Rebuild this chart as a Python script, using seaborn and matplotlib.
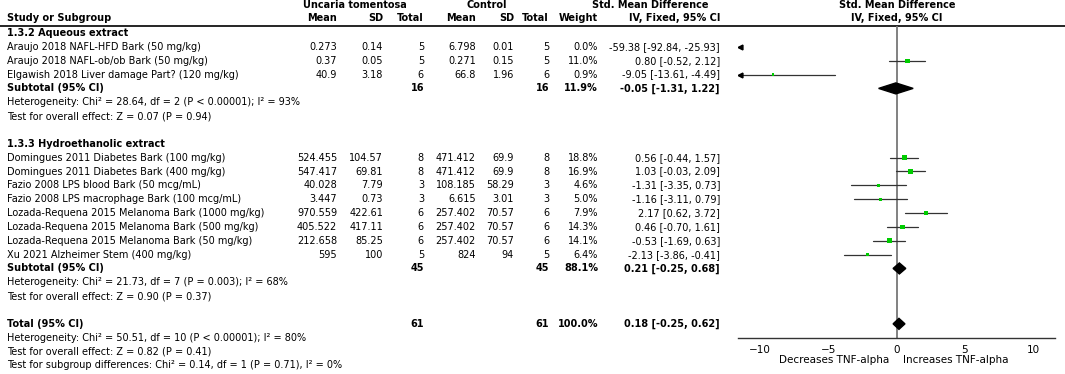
import numpy as np
import pandas as pd
import matplotlib
matplotlib.use("Agg")
import matplotlib.pyplot as plt
import seaborn as sns

# ---------------- data ----------------
studies = ["Araujo 2018 NAFL-HFD Bark (50 mg/kg)",
           "Araujo 2018 NAFL-ob/ob Bark (50 mg/kg)",
           "Elgawish 2018 Liver damage Part? (120 mg/kg)",
           "Domingues 2011 Diabetes Bark (100 mg/kg)",
           "Domingues 2011 Diabetes Bark (400 mg/kg)",
           "Fazio 2008 LPS blood Bark (50 mcg/mL)",
           "Fazio 2008 LPS macrophage Bark (100 mcg/mL)",
           "Lozada-Requena 2015 Melanoma Bark (1000 mg/kg)",
           "Lozada-Requena 2015 Melanoma Bark (500 mg/kg)",
           "Lozada-Requena 2015 Melanoma Bark (50 mg/kg)",
           "Xu 2021 Alzheimer Stem (400 mg/kg)"]
group = ["aq"] * 3 + ["hy"] * 8
ut_mean = [0.273, 0.37, 40.9, 524.455, 547.417, 40.028, 3.447, 970.559, 405.522, 212.658, 595]
ut_sd = [0.14, 0.05, 3.18, 104.57, 69.81, 7.79, 0.73, 422.61, 417.11, 85.25, 100]
ut_n = [5, 5, 6, 8, 8, 3, 3, 6, 6, 6, 5]
ct_mean = [6.798, 0.271, 66.8, 471.412, 471.412, 108.185, 6.615, 257.402, 257.402, 257.402, 824]
ct_sd = [0.01, 0.15, 1.96, 69.9, 69.9, 58.29, 3.01, 70.57, 70.57, 70.57, 94]
ct_n = [5, 5, 6, 8, 8, 3, 3, 6, 6, 6, 5]
weight = [0.0, 11.0, 0.9, 18.8, 16.9, 4.6, 5.0, 7.9, 14.3, 14.1, 6.4]
smd = [-59.38, 0.80, -9.05, 0.56, 1.03, -1.31, -1.16, 2.17, 0.46, -0.53, -2.13]
smd_lo = [-92.84, -0.52, -13.61, -0.44, -0.03, -3.35, -3.11, 0.62, -0.70, -1.69, -3.86]
smd_hi = [-25.93, 2.12, -4.49, 1.57, 2.09, 0.73, 0.79, 3.72, 1.61, 0.63, -0.41]

# subtotals / total
sub_names = ["Subtotal (95% CI)", "Subtotal (95% CI)", "Total (95% CI)"]
sub_n1 = [16, 45, 61]
sub_n2 = [16, 45, 61]
sub_w = [11.9, 88.1, 100.0]
sub_est = [-0.05, 0.21, 0.18]
sub_lo = [-1.31, -0.25, -0.25]
sub_hi = [1.22, 0.68, 0.62]

sub_het = ["Heterogeneity: Chi\u00b2 = 28.64, df = 2 (P < 0.00001); I\u00b2 = 93%",
           "Heterogeneity: Chi\u00b2 = 21.73, df = 7 (P = 0.003); I\u00b2 = 68%",
           "Heterogeneity: Chi\u00b2 = 50.51, df = 10 (P < 0.00001); I\u00b2 = 80%"]
sub_z = ["Test for overall effect: Z = 0.07 (P = 0.94)",
         "Test for overall effect: Z = 0.90 (P = 0.37)",
         "Test for overall effect: Z = 0.82 (P = 0.41)"]
subgroup_test = "Test for subgroup differences: Chi\u00b2 = 0.14, df = 1 (P = 0.71), I\u00b2 = 0%"
group_titles = ["1.3.2 Aqueous extract", "1.3.3 Hydroethanolic extract"]

xticks = [-10, -5, 0, 5, 10]
xlim = (-11.6, 11.6)

# ---------------- layout ----------------
sns.set_style("white")
plt.rcParams["font.family"] = ["DejaVu Sans"]
plt.rcParams["text.color"] = "black"
plt.rcParams["xtick.color"] = "black"
FS = 7

W, H = 1065, 374
row0, dy = 33, 13.85
def ry(i):
    return row0 + dy * i

study_rows = [1, 2, 3] + list(range(9, 17))
sub_rows = [4, 17, 21]
het_rows = [5, 18, 22]
z_rows = [6, 19, 23]
title_rows = [0, 8]

# column right edges (pixels)
c_mean1, c_sd1, c_n1 = 337, 383, 424
c_mean2, c_sd2, c_n2 = 476, 514, 549
c_w, c_ci = 598, 720
x_name = 7

fig = plt.figure(figsize=(W / 100, H / 100), dpi=100)
ax = fig.add_axes([0, 0, 1, 1])
ax.set_xlim(0, W)
ax.set_ylim(H, 0)
ax.axis("off")

def t(x, y, s, ha="right", bold=False, **kw):
    ax.text(x, y, s, ha=ha, va="center", fontsize=FS, color="black",
            fontweight="bold" if bold else "normal", **kw)

# header
t(355, 5, "Uncaria tomentosa", ha="center", bold=True)
t(487, 5, "Control", ha="center", bold=True)
t(708, 5, "Std. Mean Difference", bold=True)
t(897, 5, "Std. Mean Difference", ha="center", bold=True)
t(x_name, 18, "Study or Subgroup", ha="left", bold=True)
for xx, s in [(c_mean1, "Mean"), (c_sd1, "SD"), (c_n1, "Total"), (c_mean2, "Mean"),
              (c_sd2, "SD"), (c_n2, "Total"), (c_w, "Weight"), (c_ci, "IV, Fixed, 95% CI")]:
    t(xx, 18, s, bold=True)
t(897, 18, "IV, Fixed, 95% CI", ha="center", bold=True)
ax.plot([0, W], [25.5, 25.5], color="black", lw=1.2)

def ci_txt(e, l, h):
    return "{:.2f} [{:.2f}, {:.2f}]".format(e, l, h)

for r, s in zip(title_rows, group_titles):
    t(x_name, ry(r), s, ha="left", bold=True)

for i, r in enumerate(study_rows):
    y = ry(r)
    t(x_name, y, studies[i], ha="left")
    t(c_mean1, y, "{:g}".format(ut_mean[i]))
    t(c_sd1, y, "{:g}".format(ut_sd[i]))
    t(c_n1, y, str(ut_n[i]))
    t(c_mean2, y, "{:g}".format(ct_mean[i]))
    t(c_sd2, y, "{:g}".format(ct_sd[i]))
    t(c_n2, y, str(ct_n[i]))
    t(c_w, y, "{:.1f}%".format(weight[i]))
    t(c_ci, y, ci_txt(smd[i], smd_lo[i], smd_hi[i]))

for k, r in enumerate(sub_rows):
    y = ry(r)
    t(x_name, y, sub_names[k], ha="left", bold=True)
    t(c_n1, y, str(sub_n1[k]), bold=True)
    t(c_n2, y, str(sub_n2[k]), bold=True)
    t(c_w, y, "{:.1f}%".format(sub_w[k]), bold=True)
    t(c_ci, y, ci_txt(sub_est[k], sub_lo[k], sub_hi[k]), bold=True)
    t(x_name, ry(het_rows[k]), sub_het[k], ha="left")
    t(x_name, ry(z_rows[k]), sub_z[k], ha="left")
t(x_name, ry(24), subgroup_test, ha="left")

# ---------------- forest panel ----------------
fx0, fx1 = 738, 1055
fy_top, fy_bot = 25.5, 338
axf = fig.add_axes([fx0 / W, (H - fy_bot) / H, (fx1 - fx0) / W, (fy_bot - fy_top) / H])
axf.set_xlim(*xlim)
axf.set_ylim(fy_bot, fy_top)
axf.patch.set_alpha(0)
for sp in ["top", "left", "right"]:
    axf.spines[sp].set_visible(False)
axf.spines["bottom"].set_linewidth(1.0)
axf.spines["bottom"].set_color("#333333")
axf.set_yticks([])
axf.set_xticks(xticks)
axf.set_xticklabels([str(v).replace("-", "\u2212") for v in xticks], fontsize=FS + 0.5)
axf.tick_params(axis="x", direction="out", length=4, width=1, color="#333333", pad=1)
axf.axvline(0, color="#777777", lw=1.3, zorder=1)

df = pd.DataFrame({"smd": smd, "lo": smd_lo, "hi": smd_hi, "w": weight,
                   "y": [ry(r) for r in study_rows]})
for _, row in df.iterrows():
    lo = max(row.lo, xlim[0] + 0.15)
    hi = min(row.hi, xlim[1])
    if hi > lo:
        axf.plot([lo, hi], [row.y, row.y], color="#333333", lw=0.9, zorder=2)
    if row.lo < xlim[0]:
        axf.plot([xlim[0] + 0.15], [row.y], marker="<", color="black", ms=3.5, zorder=3)

vis = df[(df.smd > xlim[0]) & (df.smd < xlim[1])]
sns.scatterplot(data=vis, x="smd", y="y", size="w", sizes=(2.5, 14), size_norm=(0, 18.8),
                marker="s", color="#00cc00", linewidth=0, legend=False, ax=axf, zorder=4)
axf.set_xlabel("")
axf.set_ylabel("")

for k, r in enumerate(sub_rows):
    y = ry(r)
    h = 5.5
    axf.fill([sub_lo[k], sub_est[k], sub_hi[k], sub_est[k]], [y, y - h, y, y + h],
             color="black", zorder=5)

axf.text(-0.5, -0.07, "Decreases TNF-alpha", transform=axf.get_xaxis_transform(),
         ha="right", va="center", fontsize=FS + 0.5, color="black")
axf.text(0.5, -0.07, "Increases TNF-alpha", transform=axf.get_xaxis_transform(),
         ha="left", va="center", fontsize=FS + 0.5, color="black")

fig.savefig("out.png", dpi=100)
